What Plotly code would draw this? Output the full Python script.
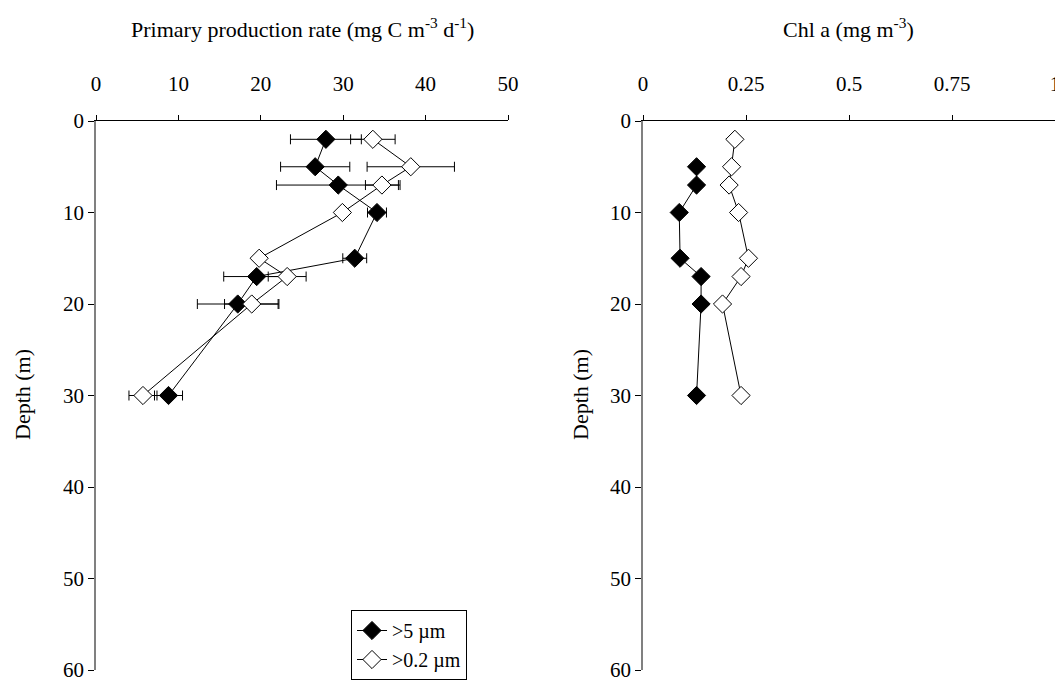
import plotly.graph_objects as go

# Data
depth = [2, 5, 7, 10, 15, 17, 20, 30]

pp_gt5 = [27.9, 26.6, 29.4, 34.1, 31.4, 19.5, 17.2, 8.8]
pp_gt5_err = [4.3, 4.2, 7.5, 1.15, 1.45, 4.0, 4.9, 1.7]
pp_gt02 = [33.6, 38.2, 34.7, 29.9, 19.8, 23.2, 18.9, 5.7]
pp_gt02_err = [2.7, 5.3, 2.0, 0, 0, 2.3, 3.3, 1.7]

chl_depth_gt5 = [5, 7, 10, 15, 17, 20, 30]
chl_gt5 = [0.130, 0.130, 0.088, 0.090, 0.141, 0.141, 0.130]
chl_depth_gt02 = [2, 5, 7, 10, 15, 17, 20, 30]
chl_gt02 = [0.223, 0.215, 0.209, 0.232, 0.256, 0.238, 0.193, 0.238]

pp_ticks = [0, 10, 20, 30, 40, 50]
chl_ticks = [0, 0.25, 0.5, 0.75, 1]
chl_ticklabels = ["0", "0.25", "0.5", "0.75", "1"]
depth_ticks = [0, 10, 20, 30, 40, 50, 60]

FONT = "Liberation Serif, Times New Roman, serif"
OFF = 8  # default page body margin
W, H = 1063 - OFF, 684 - OFF

def px(x):
    return (x - OFF) / W

def py(y):
    return 1 - (y - OFF) / H

filled = dict(symbol="diamond", size=14, color="black", line=dict(color="black", width=1))
opened = dict(symbol="diamond", size=14, color="white", line=dict(color="black", width=1))
err = lambda arr: dict(type="data", array=arr, visible=True, color="black", thickness=1, width=5)

fig = go.Figure()
fig.add_trace(go.Scatter(x=pp_gt5, y=depth, mode="lines+markers", name=">5 µm",
                         line=dict(color="black", width=1), marker=filled,
                         error_x=err(pp_gt5_err), xaxis="x", yaxis="y", cliponaxis=False))
fig.add_trace(go.Scatter(x=pp_gt02, y=depth, mode="lines+markers", name=">0.2 µm",
                         line=dict(color="black", width=1), marker=opened,
                         error_x=err(pp_gt02_err), xaxis="x", yaxis="y", cliponaxis=False))
fig.add_trace(go.Scatter(x=chl_gt5, y=chl_depth_gt5, mode="lines+markers", name=">5 µm",
                         line=dict(color="black", width=1), marker=filled, showlegend=False,
                         xaxis="x2", yaxis="y2", cliponaxis=False))
fig.add_trace(go.Scatter(x=chl_gt02, y=chl_depth_gt02, mode="lines+markers", name=">0.2 µm",
                         line=dict(color="black", width=1), marker=opened, showlegend=False,
                         xaxis="x2", yaxis="y2", cliponaxis=False))

TICKFONT = dict(family=FONT, size=21, color="black")
xcommon = dict(side="top", showline=True, linecolor="black", linewidth=1, ticks="outside",
               ticklen=5, tickcolor="black", showgrid=False, zeroline=False, automargin=False,
               tickfont=TICKFONT, ticklabelstandoff=16)
ycommon = dict(range=[60, 0], showline=True, linecolor="#808080", linewidth=1.5, ticks="outside",
               ticklen=6, tickcolor="black", tickvals=depth_ticks, showgrid=False, zeroline=False,
               automargin=False, tickfont=TICKFONT,
               domain=[py(670), py(121)])

fig.update_layout(
    template="none",
    width=W, height=H,
    margin=dict(l=0, r=0, t=0, b=0, autoexpand=False),
    paper_bgcolor="white", plot_bgcolor="white",
    font=dict(family=FONT, size=21, color="black"),
    xaxis=dict(domain=[px(96), px(508)], range=[0, 50], tickvals=pp_ticks, anchor="y", **xcommon),
    yaxis=dict(anchor="x", **ycommon),
    xaxis2=dict(domain=[px(643), px(1055)], range=[0, 1], tickvals=chl_ticks,
                ticktext=chl_ticklabels, anchor="y2", **xcommon),
    yaxis2=dict(anchor="x2", **ycommon),
    legend=dict(x=px(351), y=py(610), xanchor="left", yanchor="top",
                bordercolor="black", borderwidth=1, bgcolor="white",
                font=dict(family=FONT, size=20, color="black"), tracegroupgap=0),
    showlegend=True,
)

annos = [
    dict(text="Primary production rate (mg C m<sup>-3</sup> d<sup>-1</sup>)", x=px(302), y=py(28)),
    dict(text="Chl a (mg m<sup>-3</sup>)", x=px(848), y=py(28)),
    dict(text="Depth (m)", x=px(22), y=py(395), textangle=-90),
    dict(text="Depth (m)", x=px(580), y=py(395), textangle=-90),
]
for a in annos:
    fig.add_annotation(xref="paper", yref="paper", showarrow=False, xanchor="center", yanchor="middle",
                       font=dict(family=FONT, size=22, color="black"), **a)

fig.write_html("out.html")
